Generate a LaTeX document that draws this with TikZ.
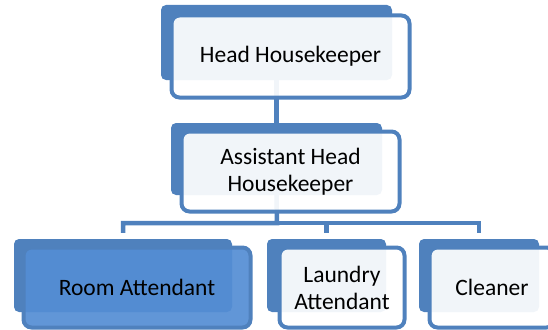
\documentclass[tikz,border=0pt]{standalone}
\usepackage{fontspec}
\setmainfont{Carlito}
\definecolor{ofblue}{RGB}{79,129,189}
\definecolor{ofsel}{RGB}{84,141,212}
\tikzset{>=stealth,
  back/.style={draw=none, fill=ofblue, rounded corners=5pt, inner sep=0pt},
  front/.style={draw=ofblue, line width=4pt, fill=white, fill opacity=0.92, text opacity=1,
    rounded corners=8pt, inner sep=0pt, align=center, font=\fontsize{23.5}{27}\selectfont},
  frontsel/.style={front, fill=ofsel},
  conn/.style={draw=ofblue, line width=4.5pt}}

\begin{document}
\begin{tikzpicture}[x=1pt,y=-1pt]
\useasboundingbox (0,0) rectangle (548,329);
% back panels
\node[back, minimum width=231pt, minimum height=75pt] (headBack) at (276.5,42.5) {};
\node[back, minimum width=211pt, minimum height=72pt] (asstBack) at (276.5,159) {};
\node[back, minimum width=218pt, minimum height=73pt] (roomBack) at (123,275.5) {};
\node[back, minimum width=119pt, minimum height=73pt] (laundryBack) at (326.5,275.5) {};
\node[back, minimum width=120pt, minimum height=73pt] (cleanerBack) at (479,275.5) {};
% connectors
\coordinate (bus) at (277,223);
\draw[conn] (headBack.south) -- (asstBack.north);
\draw[conn, shorten >=6pt] (asstBack.south) -- (bus) -| (roomBack.north);
\draw[conn, shorten >=6pt] (bus) -| (laundryBack.north);
\draw[conn, shorten >=6pt] (bus) -| (cleanerBack.north);
% front panels
\node[front, minimum width=238pt, minimum height=82pt] (head) at (290.5,56.5) {Head Housekeeper};
\node[front, minimum width=218pt, minimum height=80pt] (asst) at (290.5,171.5) {Assistant Head\\Housekeeper};
\node[frontsel, minimum width=227pt, minimum height=80pt] (room) at (137,287.5) {Room Attendant};
\node[front, minimum width=125pt, minimum height=80pt] (laundry) at (342,287.5) {Laundry\\Attendant};
\node[front, minimum width=125pt, minimum height=80pt] (cleaner) at (492,287.5) {Cleaner};
\end{tikzpicture}
\end{document}
